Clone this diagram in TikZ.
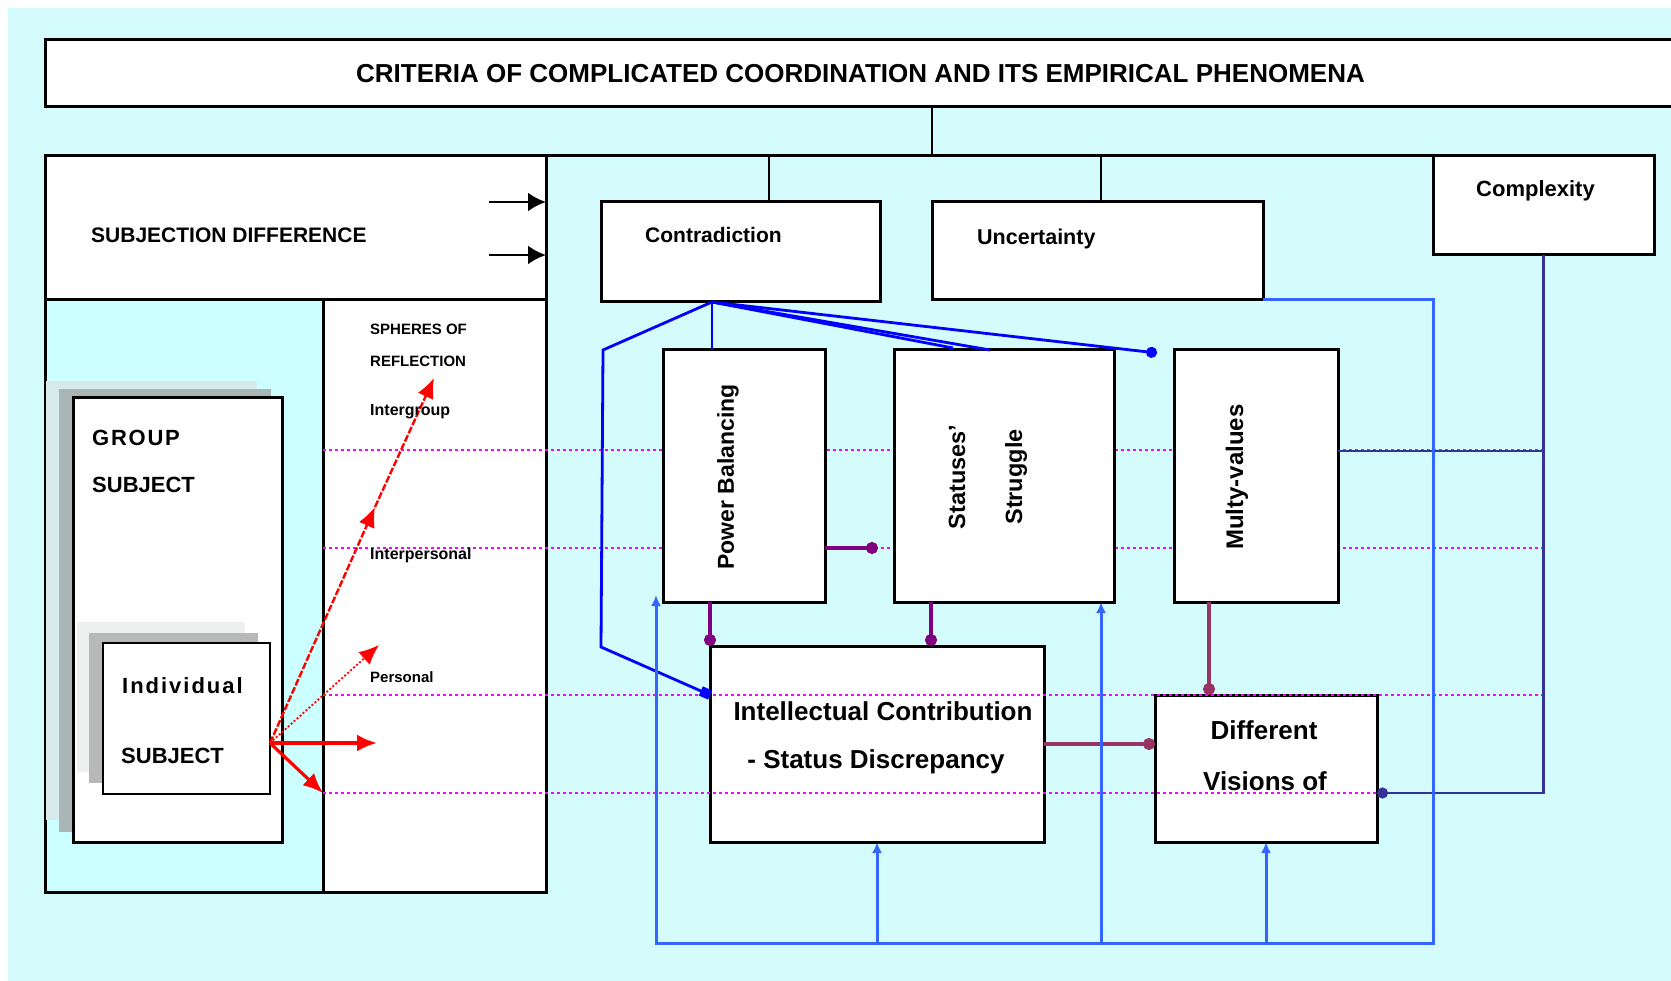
\documentclass[tikz,border=0pt]{standalone}
\usepackage{fontspec}
\setmainfont{Liberation Sans}
\usetikzlibrary{arrows.meta,calc}

\definecolor{bgcyan}{RGB}{212,252,252}
\definecolor{panelcyan}{RGB}{204,255,255}
\definecolor{dotpink}{RGB}{255,0,255}
\definecolor{plainblue}{RGB}{0,0,255}
\definecolor{busblue}{RGB}{51,102,255}
\definecolor{navyblue}{RGB}{51,51,153}
\definecolor{plum}{RGB}{128,0,128}
\definecolor{wine}{RGB}{153,51,102}
\definecolor{shadelight}{RGB}{214,234,234}
\definecolor{shadedark}{RGB}{170,182,182}
\definecolor{greylight}{RGB}{238,240,240}
\definecolor{greydark}{RGB}{184,184,184}

\newcommand{\lblfont}[1]{\fontsize{#1}{#1}\selectfont\bfseries}

\begin{document}
\begin{tikzpicture}[x=1pt, y=-1pt,
  box/.style={draw, fill=white, line width=3pt, inner sep=0pt, outer sep=0pt},
  lbl/.style={inner sep=0pt, anchor=base west},
  clbl/.style={inner sep=0pt, anchor=base},
  rlbl/.style={inner sep=0pt, rotate=90},
  pinkdot/.style={dotpink, line width=2.6pt, dash pattern=on 3pt off 3pt},
  redarrow/.style={red, -{Latex[length=20pt,width=17pt]}},
  blackarrow/.style={line width=2.8pt, -{Latex[length=18pt,width=19pt]}},
  fan/.style={plainblue, line width=2.8pt},
  bus/.style={busblue, line width=3pt},
  bustip/.style={bus, -{Latex[length=11pt,width=10pt]}},
  plumline/.style={plum, line width=3.2pt, -{Circle[length=12pt]}},
  wineline/.style={wine, line width=3.2pt, -{Circle[length=12pt]}},
  navyline/.style={navyblue, line width=2.8pt}]

\useasboundingbox (0,0) rectangle (1671,981);
\fill[bgcyan] (8,8) rectangle (1671,981);

% title and upper row
\node[box, minimum width=1631pt, minimum height=67pt, font=\lblfont{26}] (title) at (860.5,73.5) {CRITERIA OF COMPLICATED COORDINATION AND ITS EMPIRICAL PHENOMENA};
\node[box, minimum width=501pt, minimum height=144pt] (subj) at (295.5,228) {};
\node[box, fill=panelcyan, minimum width=278pt, minimum height=592pt] (panel) at (184,596) {};
\node[box, minimum width=223pt, minimum height=592pt] (sphere) at (434.5,596) {};
\node[box, minimum width=221pt, minimum height=99pt] (complex) at (1543.5,205.5) {};
\node[box, minimum width=279pt, minimum height=100pt] (contra) at (740.5,252) {};
\node[box, minimum width=331pt, minimum height=98pt] (uncert) at (1097.5,251) {};

\coordinate (rowTop) at (932,156);
\coordinate (topC) at (769,156);
\coordinate (topU) at (1101,156);
\draw[line width=3pt] (subj.north east) -- (complex.north west);
\draw[line width=2.8pt] (title.south -| rowTop) -- (rowTop);
\draw[line width=2.6pt] (topC) -- (topC |- contra.north);
\draw[line width=2.6pt] (topU) -- (topU |- uncert.north);

% subjects
\fill[shadelight] (46,381) rectangle (257,820);
\fill[shadedark] (59,389) rectangle (271,832);
\node[box, minimum width=209pt, minimum height=444pt] (group) at (177.5,620) {};
\fill[greylight] (77,622) rectangle (245,772);
\fill[greydark] (89,633) rectangle (258,783);
\node[box, line width=2.4pt, minimum width=167pt, minimum height=151pt] (indiv) at (186.5,718.5) {};

\node[box, minimum width=334pt, minimum height=196pt] (ic) at (877,744) {};
\node[box, minimum width=222pt, minimum height=147pt] (dv) at (1266,768.5) {};

% levels
\draw[pinkdot] (323,450) -- (1542,450);
\draw[pinkdot] (323,548) -- (1542,548);
\draw[pinkdot] (323,695) -- (1542,695);
\draw[pinkdot] (323,793) -- (1542,793);

\node[box, minimum width=162pt, minimum height=252pt] (pb) at (744,476) {};
\node[box, minimum width=220pt, minimum height=252pt] (ss) at (1004,476) {};
\node[box, minimum width=164pt, minimum height=252pt] (multi) at (1256,476) {};

% arrows
\coordinate (arrA) at (489,202);
\coordinate (arrB) at (489,255);
\draw[blackarrow] (arrA) -- (subj.east |- arrA);
\draw[blackarrow] (arrB) -- (subj.east |- arrB);

\coordinate (src) at (270,743);
\coordinate (tipA) at (377,743);
\coordinate (tipB) at (323,793);
\coordinate (tipC) at (379,645);
\coordinate (tipD) at (375,507);
\coordinate (tipE) at (434,378);
\draw[redarrow, line width=3.2pt] (src) -- (tipA);
\draw[redarrow, line width=3.2pt] (src) -- (tipB);
\draw[redarrow, line width=1.8pt, dash pattern=on 2pt off 2pt] (src) -- (tipC);
\draw[redarrow, line width=2.4pt, dash pattern=on 7pt off 2pt] (src) -- (tipD);
\draw[redarrow, line width=2.4pt, dash pattern=on 7pt off 2pt] (tipD) -- (tipE);

\coordinate (cS) at (712,302);
\coordinate (icIn) at (710,695);
\coordinate (ssInA) at ($(ss.north west)+(59,-2)$);
\coordinate (ssInB) at ($(ss.north west)+(96,0)$);
\coordinate (mvIn) at ($(multi.north west)+(-17,3)$);
\draw[fan] (cS) -- (cS |- pb.north);
\draw[fan, -{Square[length=10pt,width=10pt]}] (cS) -- (603,350) -- (601,647) -- (icIn);
\draw[fan] (cS) -- (ssInA);
\draw[fan] (cS) -- (ssInB);
\draw[fan, -{Circle[length=11pt]}] (cS) -- (mvIn);

\coordinate (pbR) at ($(pb.south east)+(0,-54)$);
\coordinate (ssL) at ($(ss.south west)+(-16,-54)$);
\coordinate (ssOut) at ($(ss.south west)+(37,0)$);
\coordinate (mvOut) at ($(multi.south west)+(35,0)$);
\draw[plumline] (pbR) -- (ssL);
\draw[plumline] (ic.north west |- pb.south) -- (ic.north west);
\draw[plumline] (ssOut) -- (ssOut |- ic.north);
\draw[wineline] (mvOut) -- (mvOut |- dv.north);
\draw[wineline] (ic.east) -- (ic.east -| dv.west);

\coordinate (dvR) at ($(dv.south east)+(0,-49)$);
\coordinate (cxDown) at (complex.south |- dvR);
\coordinate (mvR) at ($(multi.north east)+(0,101)$);
\draw[navyline, -{Circle[length=11pt]}] (complex.south) -- (cxDown) -- (dvR);
\draw[navyline] (mvR) -- (mvR -| complex.south);

\coordinate (busR) at (1433,943);
\coordinate (busL) at (656,943);
\coordinate (pbIn) at ($(pb.south west)+(-7,-7)$);
\coordinate (ssIn) at ($(ss.south east)+(-13,0)$);
\draw[bustip] (uncert.south east) -| (busR) -- (busL) -- (pbIn);
\draw[bustip] (ic.south |- busL) -- (ic.south);
\draw[bustip] (ssIn |- busL) -- (ssIn);
\draw[bustip] (dv.south |- busL) -- (dv.south);

% texts
\node[lbl, font=\lblfont{21}] (subjText) at (91,243) {SUBJECTION DIFFERENCE};
\node[lbl, font=\lblfont{21}] (contraText) at (645,243) {Contradiction};
\node[lbl, font=\lblfont{21.5}] (uncertText) at (977,245) {Uncertainty};
\node[lbl, font=\lblfont{22}] (complexText) at (1476,197) {Complexity};
\node[lbl, font=\lblfont{22}\addfontfeature{LetterSpace=8}] (groupText) at (92,446) {GROUP};
\node[lbl, font=\lblfont{22}] (groupSubj) at (92,492) {SUBJECT};
\node[lbl, font=\lblfont{22}\addfontfeature{LetterSpace=9}] (indivText) at (122,693) {Individual};
\node[lbl, font=\lblfont{22}] (indivSubj) at (121,763) {SUBJECT};
\node[lbl, font=\lblfont{15}] (sphereA) at (370,335) {SPHERES OF};
\node[lbl, font=\lblfont{15}] (sphereB) at (370,367) {REFLECTION};
\node[lbl, font=\lblfont{16}] (interG) at (370,416) {Intergroup};
\node[lbl, font=\lblfont{16}] (interP) at (370,559) {Interpersonal};
\node[lbl, font=\lblfont{15}] (personal) at (370,682) {Personal};
\node[rlbl, font=\lblfont{23}] (pbText) at (728,477) {Power Balancing};
\node[rlbl, font=\lblfont{23.5}] (ssTextA) at (957,477) {Statuses'};
\node[rlbl, font=\lblfont{23.5}] (ssTextB) at (1016,477) {Struggle};
\node[rlbl, font=\lblfont{24}] (mvText) at (1237,477) {Multy-values};
\node[clbl, font=\lblfont{26}] (icTextA) at (883,720) {Intellectual Contribution};
\node[clbl, font=\lblfont{26}] (icTextB) at (876,768) {- Status Discrepancy};
\node[clbl, font=\lblfont{26}] (dvTextA) at (1264,739) {Different};
\node[clbl, font=\lblfont{26}] (dvTextB) at (1265,790) {Visions of};
\end{tikzpicture}
\end{document}
